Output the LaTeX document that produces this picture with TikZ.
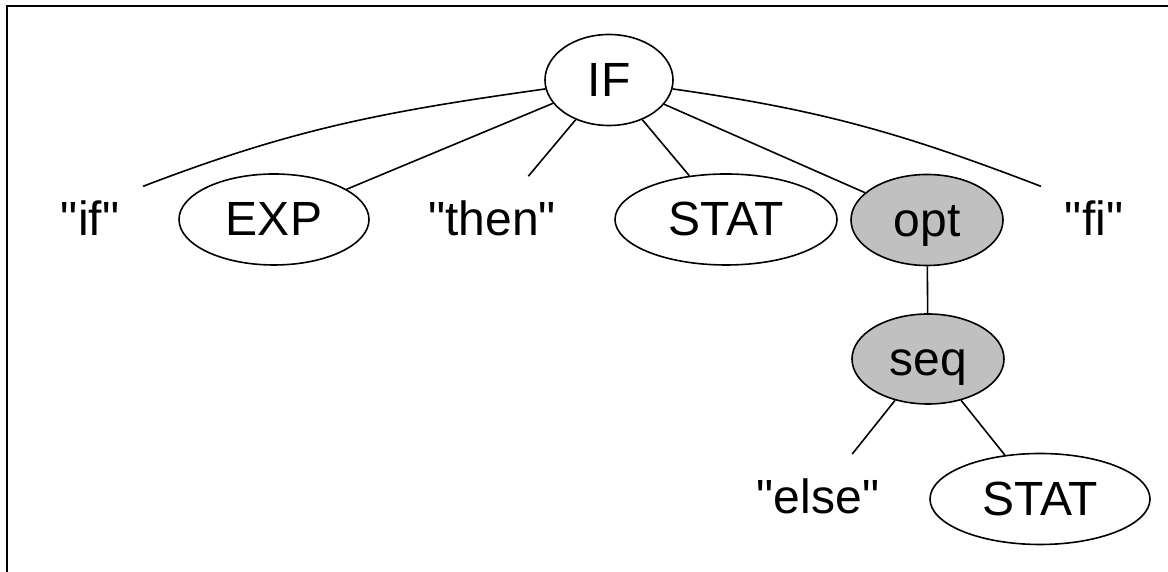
\documentclass[tikz,border=0pt]{standalone}
\usepackage{fontspec}
\setmainfont{Liberation Sans}
\usetikzlibrary{shapes.geometric}
\definecolor{optgray}{HTML}{C0C0C0}
\newcommand{\qt}[1]{\textquotedbl#1\textquotedbl}

\begin{document}
\begin{tikzpicture}[x=1pt,y=1pt,
    every node/.style={font=\fontsize{48}{56}\selectfont, text height=33pt, text depth=0pt, inner sep=0pt},
    nonterm/.style={ellipse, draw, line width=1.6pt, minimum height=91pt},
    term/.style={ellipse, minimum height=91pt},
    optnode/.style={nonterm, fill=optgray},
    edge/.style={line width=1.6pt}]
  \useasboundingbox (0,0) rectangle (1168,572);
  \draw[line width=2.4pt] (7,0) -- (7,566) -- (1168,566);

  % top row
  \node[nonterm, minimum width=128pt] (root) at (609,492) {IF};
  \node[term, minimum width=154pt] (kwif) at (90,352.5) {\qt{if}};
  \node[nonterm, minimum width=190pt] (exp) at (274,352.5) {EXP};
  \node[term, minimum width=226pt] (kwthen) at (492,352.5) {\qt{then}};
  \node[nonterm, minimum width=222pt] (stat) at (726,352.5) {STAT};
  \node[optnode, minimum width=152pt] (opt) at (927,352) {opt};
  \node[term, minimum width=154pt] (kwfi) at (1094,352.5) {\qt{fi}};

  % optional else part
  \node[optnode, minimum width=152pt, minimum height=90pt] (seq) at (928,213) {seq};
  \node[term, minimum width=200pt] (kwelse) at (818,75) {\qt{else}};
  \node[nonterm, minimum width=220pt] (stattwo) at (1040,73) {STAT};

  \draw[edge] (root) to[out=188, in=21] (kwif.32);
  \draw[edge] (root) -- (exp);
  \draw[edge] (root) -- (kwthen);
  \draw[edge] (root) -- (stat);
  \draw[edge] (root) -- (opt);
  \draw[edge] (root) to[out=-8, in=159] (kwfi.148);
  \draw[edge] (opt) -- (seq);
  \draw[edge] (seq) -- (kwelse);
  \draw[edge] (seq) -- (stattwo);
\end{tikzpicture}
\end{document}
